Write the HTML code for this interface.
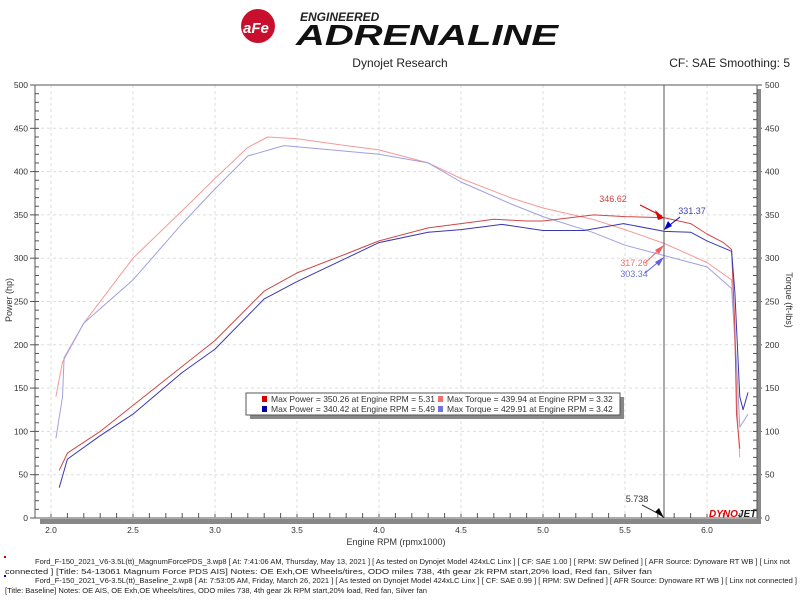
<!DOCTYPE html>
<html><head><meta charset="utf-8"><style>
html,body{margin:0;padding:0;background:#fff;width:800px;height:600px;overflow:hidden}
svg text{font-family:"Liberation Sans",sans-serif}
</style></head><body>
<svg id="s" width="800" height="600" xmlns="http://www.w3.org/2000/svg">
<circle cx="258" cy="26" r="17" fill="#c8102e"/>
<text x="243" y="33" font-size="15" font-weight="bold" fill="#fff" font-style="italic">aFe</text>
<text x="300" y="21" font-size="12" font-weight="bold" font-style="italic" fill="#222">ENGINEERED</text>
<text x="296" y="45" font-size="29" font-weight="bold" font-style="italic" fill="#111" textLength="262" lengthAdjust="spacingAndGlyphs">ADRENALINE</text>
<text x="400" y="67" font-size="12" text-anchor="middle" fill="#222">Dynojet Research</text>
<text x="790" y="67" font-size="12" text-anchor="end" fill="#222">CF: SAE Smoothing: 5</text>
<g id="grid"></g>
<rect x="40" y="519" width="721" height="5" fill="#888"/>
<rect x="757" y="89" width="4" height="435" fill="#888"/>
<line x1="35" y1="85" x2="757" y2="85" stroke="#555"/>
<line x1="35" y1="85" x2="35" y2="518" stroke="#555"/>
<line x1="35" y1="518" x2="757" y2="518" stroke="#555"/>
<line x1="757" y1="85" x2="757" y2="518" stroke="#555"/>
<text x="12" y="300" font-size="9" fill="#333" transform="rotate(-90 12 300)" text-anchor="middle">Power (hp)</text>
<text x="786" y="300" font-size="9" fill="#333" transform="rotate(90 786 300)" text-anchor="middle">Torque (ft-lbs)</text>
<text x="396" y="545" font-size="9" fill="#333" text-anchor="middle">Engine RPM (rpmx1000)</text>
<g id="curves"></g>
<line x1="664" y1="85" x2="664" y2="518" stroke="#555"/>
<text x="613" y="202" font-size="9" fill="#d04040" text-anchor="middle">346.62</text>
<text x="692" y="214" font-size="9" fill="#4040b0" text-anchor="middle">331.37</text>
<text x="634" y="266" font-size="9" fill="#f07070" text-anchor="middle">317.26</text>
<text x="634" y="277" font-size="9" fill="#7070d0" text-anchor="middle">303.34</text>
<line x1="640" y1="205" x2="662" y2="216" stroke="#d00"/><polygon points="664,218 655,210 658,220" fill="#d00"/>
<line x1="680" y1="217" x2="666" y2="228" stroke="#00c"/><polygon points="664,230 668,221 672,226" fill="#00c"/>
<line x1="645" y1="263" x2="662" y2="247" stroke="#f06060"/><polygon points="664,245 655,250 659,254" fill="#f06060"/>
<line x1="645" y1="273" x2="662" y2="259" stroke="#6060e0"/><polygon points="664,257 655,262 659,266" fill="#6060e0"/>
<text x="637" y="502" font-size="9" fill="#333" text-anchor="middle">5.738</text>
<line x1="642" y1="505" x2="661" y2="515" stroke="#333"/><polygon points="664,518 655,512 659,508" fill="#000"/>
<text x="709" y="517" font-size="10" font-weight="bold" font-style="italic" fill="#d00">DYNO<tspan fill="#222">JET</tspan></text>
<rect x="250" y="397" width="374" height="22" fill="#888"/>
<rect x="246" y="393" width="374" height="22" fill="#fff" stroke="#555"/>
<g font-size="8.5" fill="#333">
<rect x="262" y="396" width="5" height="6" fill="#d00"/><text x="271" y="402">Max Power = 350.26 at Engine RPM = 5.31</text>
<rect x="262" y="406" width="5" height="6" fill="#00a"/><text x="271" y="412">Max Power = 340.42 at Engine RPM = 5.49</text>
<rect x="438" y="396" width="5" height="6" fill="#f07070"/><text x="447" y="402">Max Torque = 439.94 at Engine RPM = 3.32</text>
<rect x="438" y="406" width="5" height="6" fill="#7070e0"/><text x="447" y="412">Max Torque = 429.91 at Engine RPM = 3.42</text>
</g>
<g font-size="7.5" fill="#222">
<rect x="4" y="556" width="2" height="2" fill="#d00"/>
<text x="35" y="564" textLength="755" lengthAdjust="spacingAndGlyphs">Ford_F-150_2021_V6-3.5L(tt)_MagnumForcePDS_3.wp8 [ At: 7:41:06 AM, Thursday, May 13, 2021 ] [ As tested on Dynojet Model 424xLC Linx ] [ CF: SAE 1.00 ] [ RPM: SW Defined ] [ AFR Source: Dynoware RT WB ] [ Linx not</text>
<text x="5" y="574" textLength="647" lengthAdjust="spacingAndGlyphs">connected ] [Title: 54-13061 Magnum Force PDS AIS]  Notes: OE Exh,OE Wheels/tires, ODO miles 738, 4th gear 2k RPM start,20% load, Red fan, Silver fan</text>
<rect x="4" y="575" width="2" height="2" fill="#00c"/>
<text x="35" y="583" textLength="762" lengthAdjust="spacingAndGlyphs">Ford_F-150_2021_V6-3.5L(tt)_Baseline_2.wp8 [ At: 7:53:05 AM, Friday, March 26, 2021 ] [ As tested on Dynojet Model 424xLC Linx ] [ CF: SAE 0.99 ] [ RPM: SW Defined ] [ AFR Source: Dynoware RT WB ] [ Linx not connected ]</text>
<text x="5" y="593" textLength="422" lengthAdjust="spacingAndGlyphs">[Title: Baseline]  Notes: OE AIS, OE Exh,OE Wheels/tires, ODO miles 738, 4th gear 2k RPM start,20% load, Red fan, Silver fan</text>
</g>
</svg>
<script>
function X(r){return 51+(r-2)*164;}
function Y(v){return 518-v*0.866;}
var g=document.getElementById('grid'),h='';
for(var v=0;v<=500;v+=50){var y=Y(v);
 if(v>0&&v<500)h+='<line x1="35" y1="'+y+'" x2="757" y2="'+y+'" stroke="#ddd" stroke-dasharray="3,3"/>';
 h+='<text x="28" y="'+(y+3)+'" font-size="8.5" fill="#333" text-anchor="end">'+v+'</text>';
 h+='<text x="765" y="'+(y+3)+'" font-size="8.5" fill="#333">'+v+'</text>';
 h+='<line x1="35" y1="'+y+'" x2="30" y2="'+y+'" stroke="#555"/><line x1="757" y1="'+y+'" x2="762" y2="'+y+'" stroke="#555"/>';}
for(v=0;v<500;v+=10){var y=Y(v);h+='<line x1="35" y1="'+y+'" x2="39" y2="'+y+'" stroke="#555"/><line x1="753" y1="'+y+'" x2="757" y2="'+y+'" stroke="#555"/>';}
for(var r=2.0;r<=6.21;r+=0.1){var x=X(r);h+='<line x1="'+x+'" y1="518" x2="'+x+'" y2="513" stroke="#555"/>';}
for(r=2.0;r<=6.01;r+=0.5){var x=X(r);h+='<line x1="'+x+'" y1="85" x2="'+x+'" y2="518" stroke="#ddd" stroke-dasharray="3,3"/><text x="'+x+'" y="533" font-size="8.5" fill="#333" text-anchor="middle">'+r.toFixed(1)+'</text>';}
g.innerHTML=h;
var S=[
["#f49a9a",[[2.03,140],[2.07,180],[2.2,225],[2.5,300],[2.8,355],[3.0,392],[3.2,428],[3.32,440],[3.5,438],[3.8,430],[4.0,425],[4.3,410],[4.5,392],[4.8,370],[5.0,358],[5.3,345],[5.5,333],[5.74,317],[6.0,295],[6.15,275],[6.17,200],[6.19,100],[6.2,70]]],
["#a0a0e0",[[2.03,92],[2.07,140],[2.08,185],[2.2,225],[2.5,275],[2.8,340],[3.0,380],[3.2,418],[3.42,430],[3.6,427],[4.0,420],[4.3,410],[4.5,388],[4.8,363],[5.0,348],[5.3,330],[5.5,315],[5.74,303],[6.0,290],[6.15,265],[6.18,180],[6.2,105],[6.25,120]]],
["#d04848",[[2.05,55],[2.1,75],[2.3,100],[2.5,130],[2.8,175],[3.0,205],[3.3,262],[3.5,283],[3.8,305],[4.0,320],[4.3,335],[4.5,340],[4.7,345],[4.9,343],[5.0,343],[5.31,350],[5.5,348],[5.74,346.6],[5.9,340],[6.0,328],[6.1,318],[6.15,310],[6.17,220],[6.18,120],[6.2,80]]],
["#3838b0",[[2.05,35],[2.1,68],[2.3,95],[2.5,120],[2.8,168],[3.0,195],[3.3,253],[3.5,273],[3.8,300],[4.0,318],[4.3,330],[4.5,333],[4.75,339],[5.0,332],[5.25,332],[5.49,340],[5.74,331],[5.9,330],[6.0,320],[6.15,308],[6.17,260],[6.2,140],[6.22,125],[6.25,145]]]];
var c='';S.forEach(function(s){c+='<polyline fill="none" stroke="'+s[0]+'" stroke-width="1" stroke-linejoin="round" points="'+s[1].map(function(p){return X(p[0]).toFixed(1)+','+Y(p[1]).toFixed(1)}).join(' ')+'"/>';});
document.getElementById('curves').innerHTML=c;
</script>
</body></html>
